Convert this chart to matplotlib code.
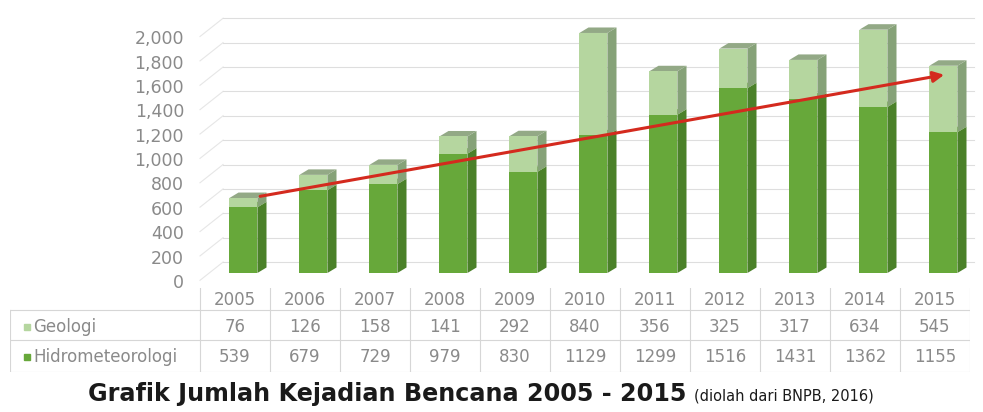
import matplotlib.pyplot as plt
from matplotlib.patches import Polygon
from matplotlib.transforms import ScaledTranslation
import numpy as np

years = ["2005", "2006", "2007", "2008", "2009", "2010", "2011", "2012", "2013", "2014", "2015"]
geologi = [76, 126, 158, 141, 292, 840, 356, 325, 317, 634, 545]
hidro = [539, 679, 729, 979, 830, 1129, 1299, 1516, 1431, 1362, 1155]
yticks = list(range(0, 2001, 200))

W, H = 983, 412
fig = plt.figure(figsize=(W / 100, H / 100), dpi=100)
fig.patch.set_facecolor("white")

# chart axes; one table column = one x unit (70 px), starting at 200 px
ax = fig.add_axes([200 / W, (H - 273) / H, 770 / W, 256 / H])
ax.set_xlim(-0.5, 10.5)
ax.set_ylim(0, 2100)
for s in ax.spines.values():
    s.set_visible(False)

dx, dy = 0.13, 45      # bar depth
wall = 90              # back wall sits this far above the bar baseline
bw = 0.4
x = np.arange(len(years)) + 0.12

# back wall grid + side wall diagonals
for v in yticks:
    ax.plot([-0.5, -0.17], [v - 60, v + wall], color="#e6e6e6", lw=0.8, clip_on=False, zorder=0)
    ax.plot([-0.17, 10.55], [v + wall, v + wall], color="#dedede", lw=0.8, clip_on=False, zorder=0)

cols = {
    "hidro": ("#67a83a", "#4b8129", "#8cc263"),
    "geo": ("#b5d69f", "#86a278", "#93a986"),
}


def draw_3d(xs, bottoms, heights, c):
    front, side, top = c
    ax.bar(xs, heights, bw, bottom=bottoms, color=front, edgecolor="none", zorder=3)
    for xi, b, h in zip(xs, bottoms, heights):
        r = xi + bw / 2
        l = xi - bw / 2
        t = b + h
        ax.add_patch(Polygon([(r, b), (r + dx, b + dy), (r + dx, t + dy), (r, t)],
                             closed=True, fc=side, ec="none", zorder=2))
        ax.add_patch(Polygon([(l, t), (l + dx, t + dy), (r + dx, t + dy), (r, t)],
                             closed=True, fc=top, ec="none", zorder=2))


draw_3d(x, [0] * len(x), hidro, cols["hidro"])
draw_3d(x, hidro, geologi, cols["geo"])

ax.set_xticks([])
ax.set_yticks(yticks)
ax.set_yticklabels([f"{v:,}" for v in yticks], color="#8a8a8a", fontsize=12.5)
ax.tick_params(axis="y", length=0, pad=11.5)
shift = ScaledTranslation(0, -8 / 100, fig.dpi_scale_trans)
for lab in ax.get_yticklabels():
    lab.set_transform(lab.get_transform() + shift)

totals = [g + h for g, h in zip(geologi, hidro)]
ax.annotate("", xy=(x[-1] + 0.05, totals[-1] - 70), xytext=(x[0] + bw / 2, totals[0] + 10),
            arrowprops=dict(arrowstyle="-|>", color="#d42a1e", lw=2.2, mutation_scale=16),
            zorder=6)

# data table underneath
tax = fig.add_axes([10 / W, (H - 372) / H, 960 / W, 84 / H])
x0 = -0.5 - 190 / 70
tax.set_xlim(x0, 10.5)
tax.set_ylim(372, 288)
tax.axis("off")
lc = "#d6d6d6"
for i in range(len(years) + 1):
    tax.plot([i - 0.5, i - 0.5], [288, 372], color=lc, lw=0.8)
tax.plot([x0, x0], [310, 372], color=lc, lw=0.8)
for yy in [310, 340, 372]:
    tax.plot([x0, 10.5], [yy, yy], color=lc, lw=0.8)

tc = "#8a8a8a"
for i, yr in enumerate(years):
    tax.text(i, 300, yr, ha="center", va="center", color=tc, fontsize=12)
    tax.text(i, 327, str(geologi[i]), ha="center", va="center", color=tc, fontsize=12)
    tax.text(i, 357, str(hidro[i]), ha="center", va="center", color=tc, fontsize=12)

sq = -0.5 - 173 / 70
tax.plot([sq], [327], marker="s", ms=5, color=cols["geo"][0])
tax.plot([sq], [357], marker="s", ms=5, color=cols["hidro"][0])
tax.text(sq + 0.09, 327, "Geologi", ha="left", va="center", color=tc, fontsize=12)
tax.text(sq + 0.09, 357, "Hidrometeorologi", ha="left", va="center", color=tc, fontsize=12)

# title
fig.text(88 / W, (H - 394) / H, "Grafik Jumlah Kejadian Bencana 2005 - 2015",
         fontsize=17.2, fontweight="bold", family="DejaVu Sans", color="#1a1a1a",
         ha="left", va="center")
fig.text(694 / W, (H - 396) / H, "(diolah dari BNPB, 2016)",
         fontsize=10.5, family="DejaVu Sans", color="#1a1a1a", ha="left", va="center")

fig.savefig("out.png", dpi=100, facecolor="white")
